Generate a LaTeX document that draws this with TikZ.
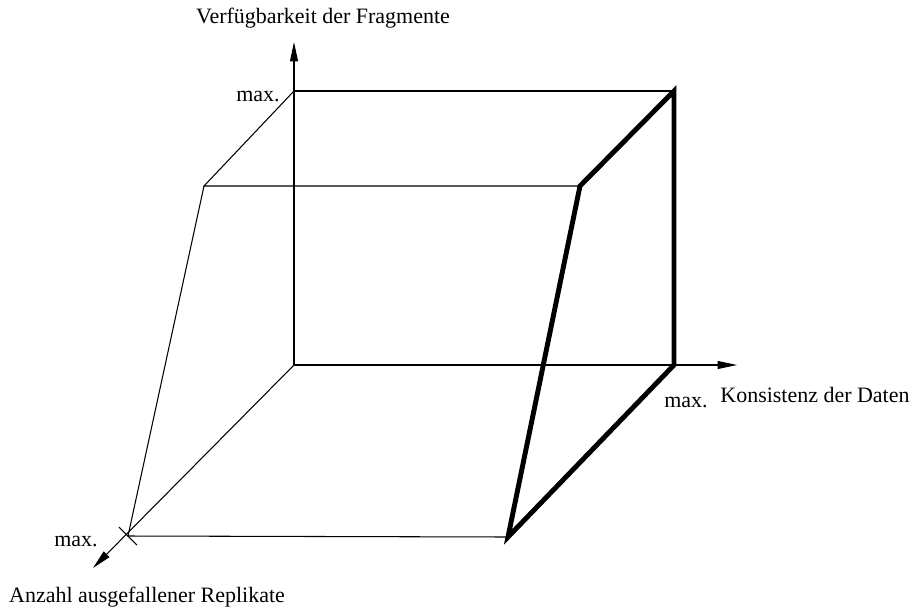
\documentclass[tikz,border=0pt]{standalone}
\usepackage{fontspec}
\setmainfont{Liberation Serif}
\usetikzlibrary{arrows.meta}

\begin{document}
\begin{tikzpicture}[x=0.02cm, y=-0.02cm, line width=0.6pt,
    font=\fontsize{12.5}{14}\selectfont,
    axis/.style={-{Triangle[length=11pt,width=4.5pt]}},
    bold/.style={line width=2.8pt, line join=miter}]
  \useasboundingbox (0,0) rectangle (912,612);
  \coordinate (O) at (294,365);
  % Achsen
  \coordinate (ay) at (294,42);
  \coordinate (ax) at (737,365);
  \coordinate (az) at (93,568);
  \coordinate (ymax) at (294,91);
  \coordinate (xmax) at (674,365);
  \coordinate (zmax) at (128,536);
  \foreach \e in {ay,ax,az}
    \draw[axis] (O) -- (\e);
  \draw (zmax) ++(-9,-9) -- ++(18,18);
  % Eckpunkte
  \coordinate (c1) at (674,91);
  \coordinate (c2) at (204,186);
  \coordinate (c3) at (580,186);
  \coordinate (c4) at (508,537);
  \draw (ymax) -- (c1);
  \draw (ymax) -- (c2) -- (c3);
  \draw (c2) -- (zmax) -- (c4);
  \draw[bold] (c1) -- (c3) -- (c4) -- (xmax) -- cycle;
  % Beschriftung
  \node (ly) at (323,18) {Verfügbarkeit der Fragmente};
  \node (lx) at (815,395) {Konsistenz der Daten};
  \node (lz) at (147,597) {Anzahl ausgefallener Replikate};
  \node (my) at (258,96) {max.};
  \node (mx) at (686,402) {max.};
  \node (mz) at (76,541) {max.};
\end{tikzpicture}
\end{document}
